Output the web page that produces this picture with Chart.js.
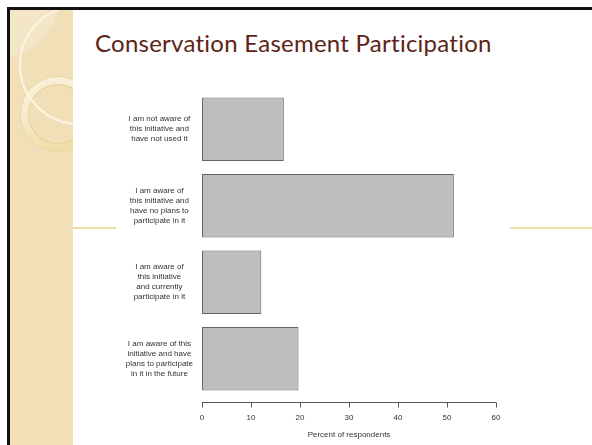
<!DOCTYPE html>
<html>
<head>
<meta charset="utf-8">
<title>Conservation Easement Participation</title>
<script src="https://cdn.jsdelivr.net/npm/chart.js@4.4.0/dist/chart.umd.min.js"></script>
<style>
  html, body { margin: 0; padding: 0; background: #fff; }
  #slide { position: relative; width: 592px; height: 445px; overflow: hidden; background: #fff; }
  .frame { position: absolute; left: 7px; top: 7px; width: 640px; height: 480px;
           border-top: 3px solid #111; border-left: 3px solid #111; }
  .strip { position: absolute; left: 10px; top: 10px; width: 63px; height: 440px;
           background: #f0dfb7; overflow: hidden; }
  .patch { position: absolute; left: -68px; top: -68px; width: 116px; height: 116px; border-radius: 50%;
           background-color: #f3e4c2;
           background-image: repeating-linear-gradient(0deg, rgba(255,255,255,.12) 0 1px, transparent 1px 3px),
                             repeating-linear-gradient(90deg, rgba(255,255,255,.12) 0 1px, transparent 1px 3px); }
  .ring { position: absolute; left: 11px; top: 67px; width: 74px; height: 74px; border-radius: 50%;
          background: linear-gradient(170deg, #faf1dc 0%, #f6e9c8 55%, #efd89c 100%);
          box-shadow: 0 0 0 1px #e8d5a6; }
  .ring-hole { position: absolute; left: 19px; top: 75px; width: 58px; height: 58px; border-radius: 50%;
               background: #f0dfb7; box-shadow: 0 0 0 1px #e6d19c; }
  .arc { position: absolute; left: 9px; top: -5px; width: 120px; height: 120px; border-radius: 50%;
         box-sizing: border-box; border: 2px solid #fcf5e2; }
  .rule { position: absolute; left: 73px; top: 227px; width: 530px; height: 2px; background: #eedca9; }
  h1 { position: absolute; left: 95px; top: 28px; margin: 0; white-space: nowrap; letter-spacing: 0.25px;
       font-family: Lato, "Open Sans", sans-serif; font-weight: normal; font-size: 24px; color: #5c2415; }
  #chartBox { position: absolute; left: 116px; top: 80px; width: 394px; height: 365px; background: #fff; }
</style>
</head>
<body>
<div id="slide">
  <div class="frame"></div>
  <div class="strip">
    <div class="patch"></div>
    <div class="ring"></div>
    <div class="ring-hole"></div>
    <div class="arc"></div>
  </div>
  <div class="rule"></div>
  <h1>Conservation Easement Participation</h1>
  <div id="chartBox"><canvas id="participationChart" width="394" height="365"></canvas></div>
</div>

<script>
// answer groups, one per bar (top to bottom)
const categories = [
    ['I am not aware of', 'this initiative and', 'have not used it'],
    ['I am aware of', 'this initiative and', 'have no plans to', 'participate in it'],
    ['I am aware of', 'this initiative', 'and currently', 'participate in it'],
    ['I am aware of this', 'initiative and have', 'plans to participate', 'in it in the future']
];

// percent of respondents in each group
const percents = [16.7, 51.4, 12.1, 19.7];

// x axis
const xTicks = [0, 10, 20, 30, 40, 50, 60];
const xTitle = 'Percent of respondents';

const textFont = 'Liberation Sans, Arial, Helvetica, sans-serif';
const textColor = '#333';

// base graphics style axis: line only from first to last tick, ticks pointing down
const axisLine = {
    id: 'axisLine',
    afterDraw(chart) {
        const x = chart.scales.x;
        const ctx = chart.ctx;
        const y0 = Math.round(chart.chartArea.bottom + 5) + 0.5;
        ctx.save();
        ctx.strokeStyle = '#555';
        ctx.lineWidth = 1;
        ctx.beginPath();
        ctx.moveTo(x.getPixelForValue(xTicks[0]), y0);
        ctx.lineTo(x.getPixelForValue(xTicks[xTicks.length - 1]), y0);
        xTicks.forEach(v => {
            const px = Math.round(x.getPixelForValue(v)) + 0.5;
            ctx.moveTo(px, y0);
            ctx.lineTo(px, y0 + 5);
        });
        ctx.stroke();
        ctx.restore();
    }
};

document.addEventListener('DOMContentLoaded', function() {
    const ctx = document.getElementById('participationChart').getContext('2d');

    new Chart(ctx, {
        type: 'bar',
        data: {
            labels: categories,
            datasets: [{
                data: percents,
                backgroundColor: '#bebebe',
                borderColor: '#666',
                borderWidth: 1,
                borderSkipped: false,
                barPercentage: 0.833,
                categoryPercentage: 1
            }]
        },
        options: {
            indexAxis: 'y',
            responsive: false,
            animation: false,
            devicePixelRatio: 1,
            layout: { padding: { top: 11, right: 14, bottom: 0, left: 0 } },
            plugins: {
                legend: { display: false },
                tooltip: { enabled: false }
            },
            scales: {
                x: {
                    type: 'linear',
                    min: xTicks[0],
                    max: xTicks[xTicks.length - 1],
                    afterBuildTicks: scale => {
                        scale.ticks = xTicks.map(v => ({ value: v }));
                    },
                    // fixed axis box; the end labels fit in the layout padding
                    afterFit: scale => {
                        scale.height = 48;
                        scale.paddingLeft = 0;
                        scale.paddingRight = 0;
                    },
                    grid: { display: false, drawTicks: false },
                    border: { display: false },
                    ticks: {
                        padding: 16,
                        color: textColor,
                        font: { family: textFont, size: 8 }
                    },
                    title: {
                        display: true,
                        text: xTitle,
                        color: textColor,
                        font: { family: textFont, size: 8, lineHeight: 1.25 },
                        padding: { top: 0, bottom: 5 }
                    }
                },
                y: {
                    // labels are taller than the gaps; keep the bars spread over the full height
                    afterFit: scale => {
                        scale.width = 86;
                        scale.paddingTop = 0;
                        scale.paddingBottom = 0;
                    },
                    grid: { display: false, drawTicks: false },
                    border: { display: false },
                    ticks: {
                        crossAlign: 'center',
                        padding: 9,
                        color: textColor,
                        font: { family: textFont, size: 8, lineHeight: 1.25 }
                    }
                }
            }
        },
        plugins: [axisLine]
    });
});
</script>
</body>
</html>
